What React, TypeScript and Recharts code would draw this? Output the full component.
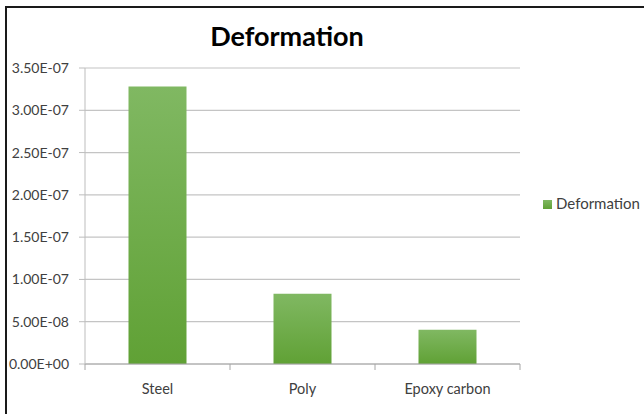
import { Bar, BarChart, CartesianGrid, Legend, XAxis, YAxis } from "recharts";

const materials = ["Steel", "Poly", "Epoxy carbon"];
const deformation = [3.28e-7, 8.3e-8, 4.05e-8];
const yTicks = [0, 5e-8, 1e-7, 1.5e-7, 2e-7, 2.5e-7, 3e-7, 3.5e-7];

const rows = materials.map((name, i) => ({ name, deformation: deformation[i] }));

const font = "Lato, 'Open Sans', sans-serif";
const labelColour = "#404040";
const gridColour = "#c4c4c4";

// Excel-style scientific labels, e.g. 3.50E-07
function sci(v: number) {
  if (v === 0) return "0.00E+00";
  const [mant, exp] = v.toExponential(2).split("e");
  const n = Number(exp);
  const sign = n < 0 ? "-" : "+";
  return `${mant}E${sign}${String(Math.abs(n)).padStart(2, "0")}`;
}

// category label plus tick marks on the band edges
function CategoryTick(props: any) {
  const { x, y, payload, index, visibleTicksCount } = props;
  const half = payload?.offset ?? 72.5;
  const axisY = y - 8;
  return (
    <g>
      <line x1={x - half} x2={x - half} y1={axisY} y2={axisY + 6} stroke="#a6a6a6" />
      {index === visibleTicksCount - 1 && (
        <line x1={x + half} x2={x + half} y1={axisY} y2={axisY + 6} stroke="#a6a6a6" />
      )}
      <text x={x} y={y + 22} textAnchor="middle" fill={labelColour} fontSize={14.5} fontFamily={font}>
        {payload.value}
      </text>
    </g>
  );
}

export default function App() {
  return (
    <div style={{ position: "absolute", left: 0, top: 0, width: 644, height: 414, background: "#fff", overflow: "hidden" }}>
      <div
        style={{
          position: "absolute",
          left: 5,
          top: 6,
          width: 700,
          height: 500,
          borderLeft: "2px solid #1a1a1a",
          borderTop: "2px solid #1a1a1a",
        }}
      />
      <div
        style={{
          position: "absolute",
          left: 0,
          top: 19,
          width: 574,
          textAlign: "center",
          fontFamily: font,
          fontWeight: 700,
          fontSize: 27,
          color: "#000",
        }}
      >
        Deformation
      </div>
      <div style={{ position: "absolute", left: 0, top: 0 }}>
        <BarChart width={644} height={414} data={rows} margin={{ top: 68, right: 124, bottom: 20, left: 0 }} barCategoryGap="30%">
          <defs>
            <linearGradient id="barFill" x1="0" y1="0" x2="0" y2="1">
              <stop offset="0%" stopColor="#80b862" />
              <stop offset="100%" stopColor="#60a135" />
            </linearGradient>
          </defs>
          <CartesianGrid vertical={false} stroke={gridColour} strokeWidth={1.2} />
          <XAxis
            dataKey="name"
            height={30}
            axisLine={{ stroke: "#a6a6a6" }}
            tickLine={false}
            tick={<CategoryTick />}
            interval={0}
          />
          <YAxis
            width={85}
            domain={[0, 3.5e-7]}
            ticks={yTicks}
            tickFormatter={sci}
            axisLine={{ stroke: "#bdbdbd" }}
            tickLine={{ stroke: "#bdbdbd" }}
            tickSize={6}
            tickMargin={10}
            tick={{ fill: labelColour, fontSize: 14, fontFamily: font }}
          />
          <Legend
            layout="vertical"
            align="center"
            verticalAlign="middle"
            iconType="square"
            iconSize={9}
            wrapperStyle={{ top: 193, left: 543, width: 110, fontFamily: font }}
            formatter={(value: string) => <span style={{ color: labelColour, fontSize: 15 }}>{value}</span>}
          />
          <Bar dataKey="deformation" name="Deformation" fill="url(#barFill)" legendType="square" isAnimationActive={false} />
        </BarChart>
      </div>
    </div>
  );
}
